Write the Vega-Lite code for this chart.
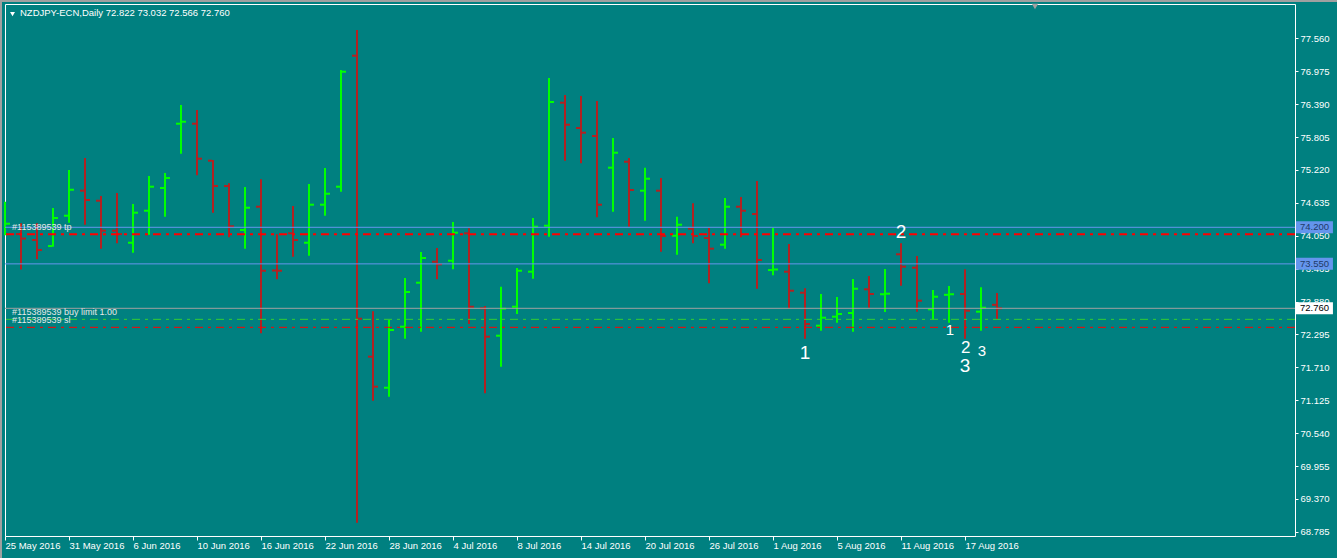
{
  "$schema": "https://vega.github.io/schema/vega-lite/v6.json",
  "width": 1290,
  "height": 532,
  "autosize": {"type": "none"},
  "padding": {"left": 5, "top": 4, "right": 42, "bottom": 22},
  "background": "#008080",
  "config": {
    "view": {"stroke": "#ffffff", "strokeWidth": 1},
    "font": "Liberation Sans",
    "axis": {"labelOverlap": false, "labelFlush": false, "labelBound": false, "grid": false, "domain": false}
  },
  "resolve": {"axis": {"x": "independent", "y": "independent"}},
  "title": {
    "text": "NZDJPY-ECN,Daily  72.822 73.032 72.566 72.760",
    "anchor": "start",
    "frame": "group",
    "orient": "top",
    "offset": -19,
    "dx": 15,
    "fontSize": 9.5,
    "fontWeight": "normal",
    "color": "#ffffff",
    "font": "Liberation Sans"
  },
  "datasets": {
    "bars": [
      {"i": 0, "date": "2016-05-25", "o": 74.07, "h": 74.655, "l": 74.06, "c": 74.264},
      {"i": 1, "date": "2016-05-26", "o": 74.08, "h": 74.27, "l": 73.45, "c": 74.0},
      {"i": 2, "date": "2016-05-27", "o": 73.974, "h": 74.27, "l": 73.63, "c": 73.796},
      {"i": 3, "date": "2016-05-30", "o": 73.867, "h": 74.543, "l": 73.855, "c": 74.365},
      {"i": 4, "date": "2016-05-31", "o": 74.406, "h": 75.219, "l": 74.282, "c": 74.868},
      {"i": 5, "date": "2016-06-01", "o": 74.851, "h": 75.432, "l": 74.246, "c": 74.685},
      {"i": 6, "date": "2016-06-02", "o": 74.673, "h": 74.756, "l": 73.82, "c": 74.14},
      {"i": 7, "date": "2016-06-03", "o": 74.14, "h": 74.81, "l": 73.916, "c": 74.08},
      {"i": 8, "date": "2016-06-06", "o": 73.926, "h": 74.614, "l": 73.748, "c": 74.46},
      {"i": 9, "date": "2016-06-07", "o": 74.495, "h": 75.112, "l": 74.068, "c": 74.922},
      {"i": 10, "date": "2016-06-08", "o": 74.899, "h": 75.165, "l": 74.388, "c": 75.076},
      {"i": 11, "date": "2016-06-09", "o": 76.042, "h": 76.374, "l": 75.508, "c": 76.077},
      {"i": 12, "date": "2016-06-10", "o": 76.042, "h": 76.285, "l": 75.124, "c": 75.42},
      {"i": 13, "date": "2016-06-13", "o": 75.384, "h": 75.396, "l": 74.46, "c": 74.934},
      {"i": 14, "date": "2016-06-14", "o": 74.934, "h": 74.982, "l": 74.022, "c": 74.218},
      {"i": 15, "date": "2016-06-15", "o": 74.152, "h": 74.916, "l": 73.82, "c": 74.548},
      {"i": 16, "date": "2016-06-16", "o": 74.566, "h": 75.053, "l": 72.316, "c": 73.428},
      {"i": 17, "date": "2016-06-17", "o": 73.432, "h": 74.076, "l": 73.276, "c": 73.428},
      {"i": 18, "date": "2016-06-20", "o": 74.093, "h": 74.579, "l": 73.677, "c": 73.974},
      {"i": 19, "date": "2016-06-21", "o": 73.926, "h": 74.97, "l": 73.695, "c": 74.602},
      {"i": 20, "date": "2016-06-22", "o": 74.602, "h": 75.254, "l": 74.406, "c": 74.797},
      {"i": 21, "date": "2016-06-23", "o": 74.922, "h": 76.996, "l": 74.833, "c": 76.966},
      {"i": 22, "date": "2016-06-24", "o": 77.251, "h": 77.708, "l": 68.948, "c": 72.575},
      {"i": 23, "date": "2016-06-27", "o": 71.9, "h": 72.707, "l": 71.117, "c": 71.366},
      {"i": 24, "date": "2016-06-28", "o": 71.348, "h": 72.552, "l": 71.188, "c": 72.374},
      {"i": 25, "date": "2016-06-29", "o": 72.433, "h": 73.299, "l": 72.22, "c": 73.05},
      {"i": 26, "date": "2016-06-30", "o": 73.215, "h": 73.761, "l": 72.344, "c": 73.654},
      {"i": 27, "date": "2016-07-01", "o": 73.588, "h": 73.832, "l": 73.276, "c": 73.542},
      {"i": 28, "date": "2016-07-04", "o": 73.606, "h": 74.294, "l": 73.453, "c": 74.104},
      {"i": 29, "date": "2016-07-05", "o": 74.093, "h": 74.182, "l": 72.481, "c": 72.788},
      {"i": 30, "date": "2016-07-06", "o": 72.76, "h": 72.801, "l": 71.249, "c": 72.255},
      {"i": 31, "date": "2016-07-07", "o": 72.273, "h": 73.144, "l": 71.722, "c": 72.753},
      {"i": 32, "date": "2016-07-08", "o": 72.788, "h": 73.476, "l": 72.659, "c": 73.428},
      {"i": 33, "date": "2016-07-11", "o": 73.411, "h": 74.365, "l": 73.286, "c": 74.211},
      {"i": 34, "date": "2016-07-12", "o": 74.228, "h": 76.854, "l": 74.033, "c": 76.428},
      {"i": 35, "date": "2016-07-13", "o": 76.415, "h": 76.552, "l": 75.384, "c": 76.024},
      {"i": 36, "date": "2016-07-14", "o": 75.965, "h": 76.534, "l": 75.338, "c": 75.882},
      {"i": 37, "date": "2016-07-15", "o": 75.823, "h": 76.445, "l": 74.378, "c": 74.602},
      {"i": 38, "date": "2016-07-18", "o": 75.26, "h": 75.788, "l": 74.477, "c": 75.526},
      {"i": 39, "date": "2016-07-19", "o": 75.366, "h": 75.432, "l": 74.211, "c": 74.863},
      {"i": 40, "date": "2016-07-20", "o": 74.851, "h": 75.26, "l": 74.317, "c": 75.064},
      {"i": 41, "date": "2016-07-21", "o": 74.851, "h": 75.076, "l": 73.766, "c": 74.045},
      {"i": 42, "date": "2016-07-22", "o": 74.05, "h": 74.388, "l": 73.713, "c": 74.246},
      {"i": 43, "date": "2016-07-25", "o": 74.175, "h": 74.627, "l": 73.916, "c": 74.045},
      {"i": 44, "date": "2016-07-26", "o": 74.01, "h": 74.188, "l": 73.204, "c": 73.82},
      {"i": 45, "date": "2016-07-27", "o": 73.891, "h": 74.721, "l": 73.82, "c": 74.566},
      {"i": 46, "date": "2016-07-28", "o": 74.566, "h": 74.739, "l": 74.022, "c": 74.495},
      {"i": 47, "date": "2016-07-29", "o": 74.436, "h": 75.023, "l": 73.108, "c": 73.619},
      {"i": 48, "date": "2016-08-01", "o": 73.44, "h": 74.188, "l": 73.347, "c": 73.45},
      {"i": 49, "date": "2016-08-02", "o": 73.411, "h": 73.903, "l": 72.753, "c": 73.073},
      {"i": 50, "date": "2016-08-03", "o": 73.037, "h": 73.116, "l": 72.22, "c": 72.481},
      {"i": 51, "date": "2016-08-04", "o": 72.451, "h": 73.014, "l": 72.362, "c": 72.593},
      {"i": 52, "date": "2016-08-05", "o": 72.611, "h": 72.961, "l": 72.504, "c": 72.659},
      {"i": 53, "date": "2016-08-08", "o": 72.676, "h": 73.281, "l": 72.344, "c": 73.108},
      {"i": 54, "date": "2016-08-09", "o": 73.098, "h": 73.334, "l": 72.771, "c": 73.014},
      {"i": 55, "date": "2016-08-10", "o": 73.01, "h": 73.459, "l": 72.694, "c": 73.02},
      {"i": 56, "date": "2016-08-11", "o": 73.72, "h": 73.916, "l": 73.162, "c": 73.5},
      {"i": 57, "date": "2016-08-12", "o": 73.482, "h": 73.69, "l": 72.7, "c": 72.895},
      {"i": 58, "date": "2016-08-15", "o": 72.742, "h": 73.085, "l": 72.564, "c": 72.966},
      {"i": 59, "date": "2016-08-16", "o": 73.0, "h": 73.156, "l": 72.504, "c": 73.01},
      {"i": 60, "date": "2016-08-17", "o": 73.014, "h": 73.453, "l": 72.22, "c": 72.717},
      {"i": 61, "date": "2016-08-18", "o": 72.7, "h": 73.133, "l": 72.362, "c": 72.771},
      {"i": 62, "date": "2016-08-19", "o": 72.822, "h": 73.032, "l": 72.566, "c": 72.76}
    ],
    "levels": [
      {"name": "tp", "price": 74.076, "label": "#115389539 tp"},
      {"name": "buy limit", "price": 72.564, "label": "#115389539 buy limit 1.00"},
      {"name": "sl", "price": 72.422, "label": "#115389539 sl"},
      {"name": "hline", "price": 74.2, "label": "74.200"},
      {"name": "hline", "price": 73.55, "label": "73.550"},
      {"name": "bid", "price": 72.76, "label": "72.760"}
    ],
    "waves": [
      {"i": 50, "price": 71.96, "text": "1", "level": "big"},
      {"i": 56, "price": 74.122, "text": "2", "level": "big"},
      {"i": 60, "price": 71.734, "text": "3", "level": "big"},
      {"i": 59.05, "price": 72.371, "text": "1", "level": "small"},
      {"i": 60.05, "price": 72.054, "text": "2", "level": "mid"},
      {"i": 61.05, "price": 71.996, "text": "3", "level": "small"}
    ]
  },
  "layer": [
    {
      "data": {"name": "bars"},
      "mark": {"type": "rule", "strokeWidth": 2},
      "encoding": {
        "x": {
          "field": "i",
          "type": "quantitative",
          "scale": {"domain": [0, 80.625], "nice": false, "zero": false},
          "axis": {
            "title": null,
            "values": [0, 4, 8, 12, 16, 20, 24, 28, 32, 36, 40, 44, 48, 52, 56, 60],
            "labelExpr": "['25 May 2016','31 May 2016','6 Jun 2016','10 Jun 2016','16 Jun 2016','22 Jun 2016','28 Jun 2016','4 Jul 2016','8 Jul 2016','14 Jul 2016','20 Jul 2016','26 Jul 2016','1 Aug 2016','5 Aug 2016','11 Aug 2016','17 Aug 2016'][round(datum.value / 4)]",
            "labelAlign": "left",
            "labelBaseline": "top",
            "labelPadding": 0,
            "tickSize": 4,
            "tickColor": "#ffffff",
            "tickWidth": 1,
            "labelColor": "#ffffff",
            "labelFont": "Liberation Sans",
            "labelFontSize": 9.5,
            "domain": false,
            "grid": false,
            "labelOverlap": false,
            "labelFlush": false,
            "labelBound": false
          }
        },
        "y": {
          "field": "l",
          "type": "quantitative",
          "scale": {"domain": [68.712, 78.17], "nice": false, "zero": false},
          "axis": {
            "title": null,
            "orient": "right",
            "values": [77.56, 76.975, 76.39, 75.805, 75.22, 74.635, 74.05, 73.465, 72.88, 72.295, 71.71, 71.125, 70.54, 69.955, 69.37, 68.785],
            "format": ".3f",
            "tickSize": 3,
            "tickColor": "#ffffff",
            "tickWidth": 1,
            "labelColor": "#ffffff",
            "labelFont": "Liberation Sans",
            "labelFontSize": 9.5,
            "labelPadding": 2,
            "labelBaseline": "middle",
            "domain": false,
            "grid": false,
            "labelOverlap": false,
            "labelFlush": false,
            "labelBound": false
          }
        },
        "y2": {"field": "h"},
        "color": {"condition": {"test": "datum.c >= datum.o", "value": "#00ff00"}, "value": "#b22222"}
      }
    },
    {
      "data": {"name": "bars"},
      "mark": {"type": "tick", "orient": "horizontal", "size": 4, "thickness": 2, "xOffset": -3, "opacity": 1, "clip": true},
      "encoding": {
        "x": {"field": "i", "type": "quantitative", "axis": null},
        "y": {"field": "o", "type": "quantitative", "axis": null},
        "color": {"condition": {"test": "datum.c >= datum.o", "value": "#00ff00"}, "value": "#b22222"}
      }
    },
    {
      "data": {"name": "bars"},
      "mark": {"type": "tick", "orient": "horizontal", "size": 4, "thickness": 2, "xOffset": 3, "opacity": 1},
      "encoding": {
        "x": {"field": "i", "type": "quantitative", "axis": null},
        "y": {"field": "c", "type": "quantitative", "axis": null},
        "color": {"condition": {"test": "datum.c >= datum.o", "value": "#00ff00"}, "value": "#b22222"}
      }
    },
    {
      "data": {"name": "levels"},
      "transform": [{"filter": "datum.name == 'hline'"}],
      "mark": {"type": "rule", "color": "#6495ed", "strokeWidth": 1},
      "encoding": {
        "y": {"field": "price", "type": "quantitative", "axis": null}
      }
    },
    {
      "data": {"name": "levels"},
      "transform": [{"filter": "datum.name == 'bid'"}],
      "mark": {"type": "rule", "color": "#a0a0a0", "strokeWidth": 1},
      "encoding": {
        "y": {"field": "price", "type": "quantitative", "axis": null}
      }
    },
    {
      "data": {"name": "levels"},
      "transform": [{"filter": "datum.name == 'tp'"}],
      "mark": {"type": "rule", "color": "#ff0000", "strokeWidth": 2, "strokeDash": [8, 5, 3, 5]},
      "encoding": {
        "y": {"field": "price", "type": "quantitative", "axis": null}
      }
    },
    {
      "data": {"name": "levels"},
      "transform": [{"filter": "datum.name == 'buy limit'"}],
      "mark": {"type": "rule", "color": "#32cd32", "strokeWidth": 1, "strokeDash": [8, 5, 3, 5]},
      "encoding": {
        "y": {"field": "price", "type": "quantitative", "axis": null}
      }
    },
    {
      "data": {"name": "levels"},
      "transform": [{"filter": "datum.name == 'sl'"}],
      "mark": {"type": "rule", "color": "#ff0000", "strokeWidth": 1, "strokeDash": [8, 5, 3, 5]},
      "encoding": {
        "y": {"field": "price", "type": "quantitative", "axis": null}
      }
    },
    {
      "data": {"name": "levels"},
      "transform": [{"filter": "datum.name == 'tp' || datum.name == 'buy limit' || datum.name == 'sl'"}],
      "mark": {"type": "text", "align": "left", "baseline": "bottom", "dy": -2, "fontSize": 9, "font": "Liberation Sans", "color": "#e8e8e8"},
      "encoding": {
        "x": {"datum": 0.44, "type": "quantitative", "axis": null},
        "y": {"field": "price", "type": "quantitative", "axis": null},
        "text": {"field": "label"}
      }
    },
    {
      "data": {"name": "waves"},
      "mark": {"type": "text", "align": "center", "baseline": "middle", "font": "Liberation Sans", "color": "#ffffff"},
      "encoding": {
        "x": {"field": "i", "type": "quantitative", "axis": null},
        "y": {"field": "price", "type": "quantitative", "axis": null},
        "text": {"field": "text"},
        "size": {"field": "level", "type": "ordinal", "scale": {"domain": ["big", "mid", "small"], "range": [19, 15, 13]}, "legend": null}
      }
    },
    {
      "data": {"name": "levels"},
      "transform": [{"filter": "datum.name == 'hline' || datum.name == 'bid'"}],
      "mark": {"type": "tick", "orient": "vertical", "size": 12, "thickness": 37, "opacity": 1},
      "encoding": {
        "x": {"datum": 81.84, "type": "quantitative", "axis": null},
        "y": {"field": "price", "type": "quantitative", "axis": null},
        "color": {"condition": {"test": "datum.name == 'bid'", "value": "#ffffff"}, "value": "#6495ed"}
      }
    },
    {
      "data": {"name": "levels"},
      "transform": [{"filter": "datum.name == 'hline' || datum.name == 'bid'"}],
      "mark": {"type": "text", "align": "left", "baseline": "middle", "fontSize": 9.5, "font": "Liberation Sans"},
      "encoding": {
        "x": {"datum": 80.94, "type": "quantitative", "axis": null},
        "y": {"field": "price", "type": "quantitative", "axis": null},
        "text": {"field": "label"},
        "color": {"condition": {"test": "datum.name == 'bid'", "value": "#000000"}, "value": "#1f3a68"}
      }
    },
    {
      "data": {"values": [{}]},
      "mark": {"type": "point", "shape": "triangle-down", "size": 24, "filled": true, "color": "#ffffff", "opacity": 1},
      "encoding": {
        "x": {"datum": 0.47, "type": "quantitative", "axis": null},
        "y": {"datum": 77.99, "type": "quantitative", "axis": null}
      }
    },
    {
      "data": {"values": [{}]},
      "mark": {"type": "point", "shape": "triangle-down", "size": 40, "filled": true, "color": "#a0a0a0", "opacity": 1},
      "encoding": {
        "x": {"datum": 64.375, "type": "quantitative", "axis": null},
        "y": {"datum": 78.125, "type": "quantitative", "axis": null}
      }
    },
    {
      "data": {"values": [{}]},
      "mark": {"type": "rule", "color": "#a0a0a0", "strokeWidth": 2},
      "encoding": {
        "x": {"datum": -0.25, "type": "quantitative", "axis": null},
        "y": {"datum": 78.25, "type": "quantitative", "axis": null},
        "y2": {"datum": 68.3}
      }
    },
    {
      "data": {"values": [{}]},
      "mark": {"type": "rule", "color": "#a0a0a0", "strokeWidth": 2},
      "encoding": {
        "y": {"datum": 78.223, "type": "quantitative", "axis": null},
        "x": {"datum": -0.4, "type": "quantitative", "axis": null},
        "x2": {"datum": 83.3}
      }
    }
  ]
}
